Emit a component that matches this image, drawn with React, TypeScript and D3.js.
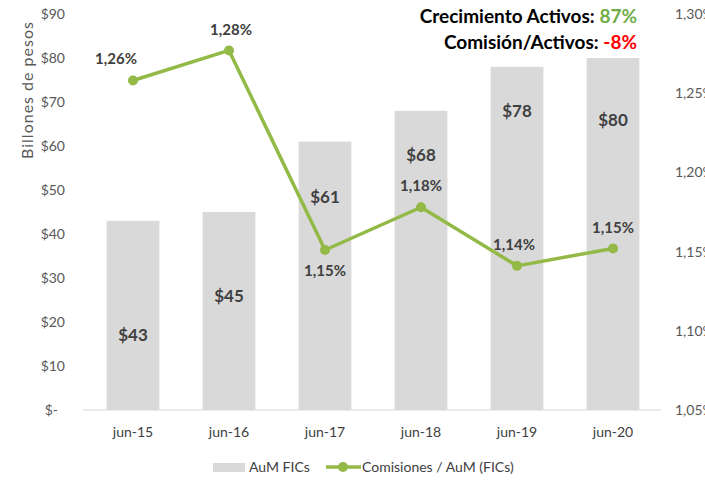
import { useEffect, useRef } from "react";
import * as d3 from "d3";

const categories = ["jun-15", "jun-16", "jun-17", "jun-18", "jun-19", "jun-20"];
const aum = [43, 45, 61, 68, 78, 80];
const aumLabelAt = [17, 26, 48.4, 58, 68, 66];
const comision = [1.258, 1.277, 1.151, 1.178, 1.141, 1.152];
const comisionLabels = ["1,26%", "1,28%", "1,15%", "1,18%", "1,14%", "1,15%"];
const leftTicks = [0, 10, 20, 30, 40, 50, 60, 70, 80, 90];
const rightTicks = [1.05, 1.1, 1.15, 1.2, 1.25, 1.3];

const GREEN = "#93b947";
const FONT = "Lato, 'Open Sans', sans-serif";

export default function App() {
  const ref = useRef<HTMLDivElement>(null);

  useEffect(() => {
    const container = d3.select(ref.current);
    container.selectAll("*").remove();

    const width = 705, height = 483;
    const svg = container.append("svg")
      .attr("width", width)
      .attr("height", height)
      .style("position", "absolute")
      .style("left", "0px")
      .style("top", "0px")
      .style("font-family", FONT);

    const x = d3.scaleBand()
      .domain(categories)
      .range([85, 661])
      .paddingInner(0.45)
      .paddingOuter(0.225);

    const xc = (c: string) => (x(c) as number) + x.bandwidth() / 2;

    const y = d3.scaleLinear().domain([0, 90]).range([410, 14]);
    const yr = d3.scaleLinear().domain([1.05, 1.3]).range([410, 14]);

    // left tick labels
    svg.append("g")
      .selectAll("text")
      .data(leftTicks)
      .join("text")
      .attr("x", d => (d === 0 ? 58 : 65))
      .attr("y", d => y(d))
      .attr("dy", "0.35em")
      .attr("text-anchor", "end")
      .attr("font-size", 14)
      .attr("fill", "#595959")
      .text(d => (d === 0 ? "$-" : `$${d}`));

    // right tick labels
    svg.append("g")
      .selectAll("text")
      .data(rightTicks)
      .join("text")
      .attr("x", 675)
      .attr("y", d => yr(d))
      .attr("dy", "0.35em")
      .attr("font-size", 14)
      .attr("fill", "#595959")
      .text(d => d3.format(".2f")(d).replace(".", ",") + "%");

    // y title
    svg.append("text")
      .attr("transform", "translate(33,90) rotate(-90)")
      .attr("text-anchor", "middle")
      .attr("font-size", 16)
      .attr("letter-spacing", 1)
      .attr("fill", "#595959")
      .text("Billones de pesos");

    // bars
    svg.append("g")
      .selectAll("rect")
      .data(aum)
      .join("rect")
      .attr("x", (_, i) => x(categories[i]) as number)
      .attr("y", d => y(d))
      .attr("width", x.bandwidth())
      .attr("height", d => y(0) - y(d))
      .attr("fill", "#d9d9d9");

    // baseline
    svg.append("line")
      .attr("x1", 83).attr("x2", 661)
      .attr("y1", y(0)).attr("y2", y(0))
      .attr("stroke", "#d9d9d9")
      .attr("stroke-width", 1);

    // x labels
    svg.append("g")
      .selectAll("text")
      .data(categories)
      .join("text")
      .attr("x", d => xc(d))
      .attr("y", 437)
      .attr("text-anchor", "middle")
      .attr("font-size", 14)
      .attr("fill", "#404040")
      .text(d => d);

    // bar labels
    svg.append("g")
      .selectAll("text")
      .data(aum)
      .join("text")
      .attr("x", (_, i) => xc(categories[i]))
      .attr("y", (_, i) => y(aumLabelAt[i]))
      .attr("dy", "0.35em")
      .attr("text-anchor", "middle")
      .attr("font-size", 17)
      .attr("font-weight", "bold")
      .attr("fill", "#404040")
      .text(d => `$${d}`);

    // line
    const line = d3.line<number>()
      .x((_, i) => xc(categories[i]))
      .y(d => yr(d));

    svg.append("path")
      .datum(comision)
      .attr("d", line)
      .attr("fill", "none")
      .attr("stroke", GREEN)
      .attr("stroke-width", 3.5)
      .attr("stroke-linejoin", "round");

    svg.append("g")
      .selectAll("circle")
      .data(comision)
      .join("circle")
      .attr("cx", (_, i) => xc(categories[i]))
      .attr("cy", d => yr(d))
      .attr("r", 5)
      .attr("fill", GREEN);

    const labelDx = [-17, 2, 0, 0, -3, 0];
    const labelDy = [-22, -21, 21, -21, -21, -21];
    svg.append("g")
      .selectAll("text")
      .data(comision)
      .join("text")
      .attr("x", (_, i) => xc(categories[i]) + labelDx[i])
      .attr("y", (d, i) => yr(d) + labelDy[i])
      .attr("dy", "0.35em")
      .attr("text-anchor", "middle")
      .attr("font-size", 15)
      .attr("font-weight", "bold")
      .attr("fill", "#404040")
      .text((_, i) => comisionLabels[i]);

    // headline
    const h1 = svg.append("text")
      .attr("x", 637).attr("y", 23)
      .attr("text-anchor", "end")
      .attr("font-size", 19)
      .attr("font-weight", "bold")
      .attr("fill", "#000");
    h1.append("tspan").text("Crecimiento Activos: ");
    h1.append("tspan").attr("fill", "#70ad47").text("87%");

    const h2 = svg.append("text")
      .attr("x", 637).attr("y", 49)
      .attr("text-anchor", "end")
      .attr("font-size", 19)
      .attr("font-weight", "bold")
      .attr("fill", "#000");
    h2.append("tspan").text("Comisión/Activos: ");
    h2.append("tspan").attr("fill", "#ff0000").text("-8%");

    // legend
    const lg = svg.append("g").attr("transform", "translate(0,467)");
    lg.append("rect")
      .attr("x", 213).attr("y", -4)
      .attr("width", 32).attr("height", 9)
      .attr("fill", "#d9d9d9");
    lg.append("text")
      .attr("x", 249).attr("y", 0)
      .attr("dy", "0.35em")
      .attr("font-size", 14)
      .attr("fill", "#404040")
      .text("AuM FICs");
    lg.append("line")
      .attr("x1", 326).attr("x2", 361)
      .attr("y1", 0).attr("y2", 0)
      .attr("stroke", GREEN)
      .attr("stroke-width", 3.5);
    lg.append("circle")
      .attr("cx", 343).attr("cy", 0).attr("r", 5)
      .attr("fill", GREEN);
    lg.append("text")
      .attr("x", 362).attr("y", 0)
      .attr("dy", "0.35em")
      .attr("font-size", 14)
      .attr("fill", "#404040")
      .text("Comisiones / AuM (FICs)");
  }, []);

  return <div ref={ref}></div>;
}
